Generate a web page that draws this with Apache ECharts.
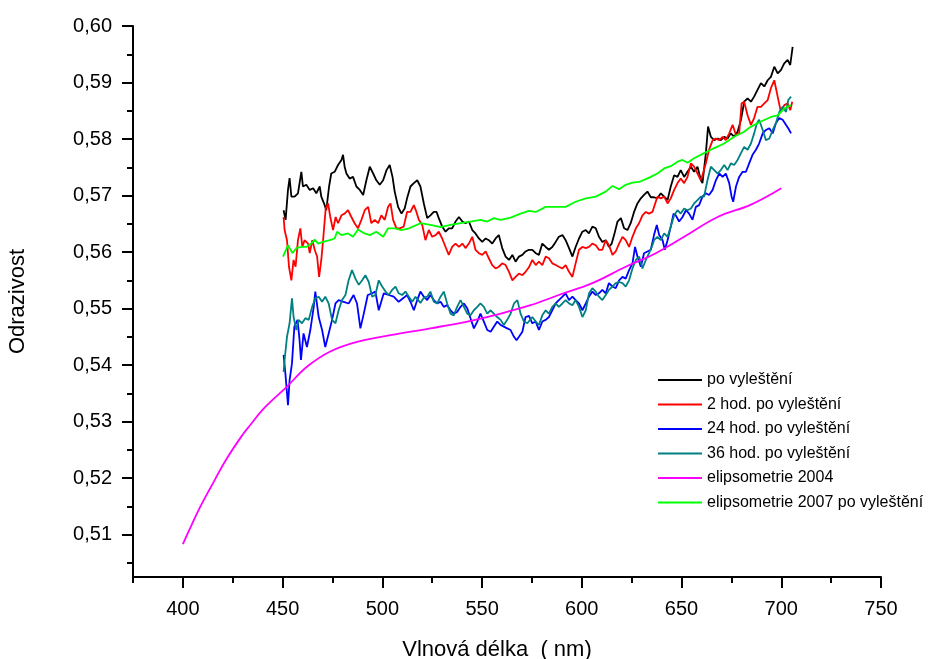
<!DOCTYPE html>
<html>
<head>
<meta charset="utf-8">
<script src="https://cdn.jsdelivr.net/npm/echarts@6/dist/echarts.min.js"></script>
<style>html,body{margin:0;padding:0;background:#fff}#c{width:930px;height:659px}</style>
</head>
<body>
<div id="c"></div>
<script>
const seriesNames = ["po vyleštění","2 hod. po vyleštění","24 hod. po vyleštění","36 hod. po vyleštění","elipsometrie 2004","elipsometrie 2007 po vyleštění"];
const xTicksMajor = [400,450,500,550,600,650,700,750];
const xTicksMinor = [375,425,475,525,575,625,675,725];
const yTicksMajor = [0.51,0.52,0.53,0.54,0.55,0.56,0.57,0.58,0.59,0.60];
const yTicksMinor = [0.505,0.515,0.525,0.535,0.545,0.555,0.565,0.575,0.585,0.595];

const poVylesteni = [[450.5,0.5674],[451.5,0.5657],[452.7,0.5710],[453.5,0.5731],[454.4,0.5698],[456.0,0.5698],[457.7,0.5704],[459.4,0.5742],[460.2,0.5716],[461.9,0.5719],[463.6,0.5710],[465.3,0.5713],[466.9,0.5704],[468.6,0.5716],[469.4,0.5698],[471.1,0.5683],[471.9,0.5674],[473.3,0.5716],[474.4,0.5739],[476.1,0.5742],[477.8,0.5754],[479.5,0.5763],[480.3,0.5772],[481.1,0.5751],[482.0,0.5739],[483.6,0.5730],[485.3,0.5733],[487.0,0.5716],[488.7,0.5710],[490.4,0.5701],[492.0,0.5727],[493.7,0.5751],[495.4,0.5739],[497.0,0.5727],[498.7,0.5719],[500.4,0.5727],[502.1,0.5745],[503.7,0.5754],[505.1,0.5733],[506.2,0.5707],[507.9,0.5680],[509.6,0.5668],[511.2,0.5677],[512.4,0.5695],[514.1,0.5716],[515.8,0.5722],[517.5,0.5727],[519.1,0.5716],[520.8,0.5686],[522.5,0.5660],[524.1,0.5665],[525.8,0.5671],[527.2,0.5671],[528.3,0.5660],[530.0,0.5645],[531.7,0.5636],[533.3,0.5642],[535.0,0.5642],[536.7,0.5654],[538.4,0.5662],[540.1,0.5654],[541.7,0.5651],[543.4,0.5654],[545.1,0.5639],[546.7,0.5633],[548.4,0.5624],[550.1,0.5618],[551.8,0.5624],[553.4,0.5621],[555.1,0.5615],[556.8,0.5624],[558.4,0.5630],[560.1,0.5607],[561.8,0.5592],[563.5,0.5586],[565.2,0.5595],[566.8,0.5583],[568.5,0.5592],[570.2,0.5595],[571.8,0.5601],[573.5,0.5604],[575.2,0.5604],[576.9,0.5598],[578.5,0.5595],[580.2,0.5615],[581.9,0.5609],[583.5,0.5604],[585.2,0.5609],[586.9,0.5618],[588.5,0.5627],[590.3,0.5630],[591.9,0.5621],[593.6,0.5607],[595.3,0.5592],[596.9,0.5609],[598.6,0.5624],[600.3,0.5636],[602.0,0.5639],[603.6,0.5633],[605.3,0.5645],[607.0,0.5642],[608.6,0.5627],[610.3,0.5618],[612.0,0.5621],[613.6,0.5609],[615.0,0.5615],[616.2,0.5630],[617.9,0.5654],[619.6,0.5660],[621.2,0.5642],[622.9,0.5639],[624.5,0.5651],[626.2,0.5671],[627.9,0.5686],[629.6,0.5695],[631.2,0.5701],[632.9,0.5707],[634.6,0.5697],[636.2,0.5697],[637.9,0.5695],[639.6,0.5704],[641.3,0.5698],[643.0,0.5692],[644.6,0.5716],[646.3,0.5736],[648.0,0.5733],[649.6,0.5745],[651.3,0.5733],[653.0,0.5742],[654.7,0.5751],[656.3,0.5742],[658.0,0.5751],[659.7,0.5727],[660.5,0.5722],[662.2,0.5775],[663.3,0.5822],[664.7,0.5804],[666.4,0.5798],[668.1,0.5801],[669.7,0.5798],[671.4,0.5804],[673.1,0.5801],[674.7,0.5810],[676.4,0.5804],[678.1,0.5813],[679.8,0.5834],[681.4,0.5866],[683.1,0.5872],[684.8,0.5866],[686.4,0.5875],[688.1,0.5887],[689.8,0.5899],[691.5,0.5893],[693.2,0.5904],[694.8,0.5910],[696.5,0.5928],[698.2,0.5916],[699.8,0.5922],[701.5,0.5934],[703.2,0.5940],[704.5,0.5931],[705.7,0.5963]];

const hod2 = [[450.5,0.5662],[451.0,0.5639],[452.2,0.5621],[453.2,0.5574],[454.4,0.5550],[455.5,0.5586],[456.5,0.5574],[457.7,0.5621],[458.9,0.5642],[459.9,0.5609],[461.0,0.5621],[462.8,0.5615],[463.6,0.5598],[464.9,0.5621],[466.1,0.5604],[467.3,0.5592],[468.3,0.5556],[469.4,0.5586],[470.3,0.5621],[471.6,0.5677],[472.8,0.5686],[473.9,0.5662],[475.3,0.5639],[476.6,0.5662],[477.8,0.5651],[479.5,0.5665],[481.1,0.5668],[482.8,0.5674],[484.5,0.5662],[486.1,0.5651],[487.8,0.5642],[489.5,0.5657],[491.2,0.5674],[492.9,0.5680],[494.5,0.5651],[496.2,0.5657],[497.9,0.5651],[499.5,0.5665],[501.2,0.5657],[502.9,0.5680],[504.1,0.5686],[505.4,0.5657],[507.1,0.5642],[508.7,0.5642],[510.7,0.5645],[512.4,0.5671],[514.1,0.5671],[515.8,0.5683],[517.1,0.5671],[518.3,0.5657],[520.0,0.5648],[521.6,0.5621],[523.3,0.5639],[525.0,0.5627],[526.7,0.5630],[528.3,0.5636],[530.0,0.5624],[531.7,0.5609],[533.3,0.5595],[535.0,0.5609],[536.7,0.5615],[538.4,0.5609],[540.1,0.5615],[541.7,0.5607],[543.4,0.5615],[545.1,0.5627],[546.7,0.5604],[548.4,0.5598],[550.1,0.5595],[551.8,0.5601],[553.4,0.5589],[555.1,0.5577],[556.8,0.5571],[558.4,0.5574],[560.1,0.5580],[561.8,0.5577],[563.5,0.5565],[565.2,0.5550],[566.8,0.5556],[568.5,0.5562],[570.2,0.5559],[571.8,0.5565],[573.5,0.5573],[575.2,0.5586],[576.9,0.5577],[578.5,0.5583],[580.2,0.5577],[581.9,0.5592],[583.5,0.5589],[585.2,0.5580],[586.9,0.5577],[588.5,0.5574],[590.3,0.5571],[591.9,0.5577],[593.6,0.5565],[595.3,0.5556],[596.9,0.5580],[598.6,0.5604],[600.3,0.5609],[602.0,0.5607],[603.6,0.5609],[605.3,0.5615],[607.0,0.5612],[608.6,0.5604],[610.3,0.5604],[612.0,0.5621],[613.6,0.5612],[615.4,0.5595],[617.0,0.5601],[618.7,0.5615],[620.4,0.5627],[622.0,0.5621],[623.7,0.5609],[625.4,0.5627],[627.1,0.5642],[628.7,0.5651],[630.4,0.5665],[632.1,0.5671],[633.7,0.5668],[635.4,0.5671],[636.2,0.5674],[637.9,0.5698],[639.6,0.5695],[641.3,0.5698],[643.0,0.5686],[644.6,0.5695],[646.3,0.5710],[648.0,0.5722],[649.6,0.5730],[651.3,0.5722],[653.0,0.5733],[654.7,0.5757],[656.3,0.5751],[658.0,0.5739],[659.7,0.5727],[661.0,0.5742],[662.2,0.5757],[663.8,0.5781],[665.6,0.5798],[667.2,0.5801],[668.9,0.5798],[670.6,0.5804],[672.2,0.5798],[673.9,0.5810],[675.6,0.5825],[677.3,0.5807],[678.9,0.5810],[680.1,0.5863],[681.4,0.5866],[683.1,0.5842],[684.8,0.5825],[686.4,0.5837],[688.1,0.5857],[689.8,0.5857],[691.5,0.5863],[693.2,0.5869],[694.8,0.5890],[696.5,0.5904],[698.2,0.5875],[699.8,0.5848],[701.5,0.5860],[703.2,0.5863],[704.5,0.5851],[705.5,0.5866]];

const hod24 = [[450.5,0.5418],[451.4,0.5385],[452.7,0.5329],[453.5,0.5373],[454.7,0.5403],[455.9,0.5468],[457.5,0.5480],[458.5,0.5444],[459.2,0.5409],[460.5,0.5456],[462.2,0.5432],[463.9,0.5462],[465.6,0.5503],[466.4,0.5530],[468.1,0.5485],[469.8,0.5462],[471.4,0.5432],[473.1,0.5456],[474.8,0.5480],[476.5,0.5509],[478.1,0.5515],[480.6,0.5512],[483.1,0.5509],[485.6,0.5524],[487.3,0.5509],[489.0,0.5465],[490.7,0.5491],[492.7,0.5524],[494.9,0.5527],[496.5,0.5530],[498.2,0.5497],[500.7,0.5527],[503.2,0.5524],[505.7,0.5521],[508.2,0.5512],[510.7,0.5519],[512.4,0.5524],[514.1,0.5512],[515.8,0.5497],[517.5,0.5515],[519.1,0.5530],[520.8,0.5521],[522.5,0.5515],[524.1,0.5524],[525.8,0.5515],[527.5,0.5509],[529.2,0.5512],[530.8,0.5503],[532.5,0.5506],[534.2,0.5497],[535.8,0.5491],[537.5,0.5494],[539.2,0.5503],[540.9,0.5509],[542.6,0.5500],[544.2,0.5483],[545.9,0.5465],[547.6,0.5477],[549.2,0.5491],[550.9,0.5477],[552.6,0.5462],[554.3,0.5459],[555.9,0.5468],[557.6,0.5477],[559.3,0.5471],[560.9,0.5468],[562.6,0.5465],[564.3,0.5462],[566.0,0.5450],[567.3,0.5444],[568.5,0.5450],[570.2,0.5459],[571.8,0.5485],[573.5,0.5487],[575.2,0.5474],[576.9,0.5477],[578.5,0.5462],[580.2,0.5477],[581.9,0.5480],[583.5,0.5485],[585.2,0.5497],[586.9,0.5509],[588.5,0.5515],[590.3,0.5521],[591.9,0.5527],[593.6,0.5515],[595.3,0.5521],[596.9,0.5515],[598.6,0.5509],[600.3,0.5497],[602.0,0.5509],[603.6,0.5521],[605.3,0.5530],[607.0,0.5524],[608.6,0.5527],[610.3,0.5533],[612.0,0.5527],[613.6,0.5545],[615.4,0.5539],[617.0,0.5536],[618.7,0.5550],[620.4,0.5556],[622.0,0.5553],[623.7,0.5568],[625.4,0.5580],[626.7,0.5609],[627.9,0.5592],[629.6,0.5574],[631.2,0.5598],[632.9,0.5601],[634.6,0.5604],[636.2,0.5630],[637.6,0.5648],[638.8,0.5630],[640.5,0.5621],[641.6,0.5604],[643.0,0.5621],[644.6,0.5645],[646.0,0.5668],[647.1,0.5665],[648.8,0.5654],[650.5,0.5662],[652.2,0.5674],[653.8,0.5668],[655.5,0.5657],[657.2,0.5680],[658.8,0.5683],[660.5,0.5698],[662.2,0.5704],[663.8,0.5701],[665.6,0.5710],[667.2,0.5727],[668.9,0.5739],[670.6,0.5733],[672.2,0.5739],[673.9,0.5722],[675.1,0.5698],[675.9,0.5689],[677.3,0.5716],[678.9,0.5733],[680.6,0.5742],[682.3,0.5742],[683.9,0.5757],[685.6,0.5772],[687.3,0.5781],[688.9,0.5792],[690.7,0.5810],[692.3,0.5816],[694.0,0.5819],[695.7,0.5810],[697.3,0.5828],[699.0,0.5837],[700.7,0.5834],[702.4,0.5825],[703.5,0.5819],[704.9,0.5810]];

const hod36 = [[450.5,0.5388],[451.0,0.5409],[452.2,0.5450],[453.5,0.5474],[454.7,0.5518],[455.5,0.5485],[456.9,0.5462],[458.0,0.5480],[459.7,0.5474],[461.4,0.5483],[463.1,0.5480],[464.8,0.5503],[466.4,0.5518],[468.1,0.5521],[469.8,0.5512],[471.4,0.5521],[473.1,0.5509],[474.8,0.5480],[476.5,0.5474],[478.1,0.5497],[479.8,0.5515],[481.5,0.5524],[483.1,0.5550],[484.8,0.5568],[486.5,0.5553],[488.2,0.5542],[489.9,0.5550],[491.5,0.5559],[493.2,0.5547],[494.9,0.5521],[496.5,0.5524],[498.2,0.5550],[499.9,0.5539],[501.6,0.5530],[503.2,0.5524],[504.9,0.5533],[506.6,0.5539],[508.2,0.5527],[509.9,0.5524],[511.6,0.5530],[513.3,0.5521],[515.0,0.5512],[516.6,0.5521],[519.1,0.5510],[520.8,0.5519],[522.5,0.5521],[524.1,0.5530],[525.8,0.5512],[527.5,0.5509],[529.2,0.5521],[530.8,0.5530],[532.5,0.5509],[534.2,0.5491],[535.8,0.5488],[537.5,0.5503],[539.2,0.5515],[540.9,0.5503],[542.6,0.5491],[544.2,0.5488],[545.9,0.5497],[547.6,0.5503],[549.2,0.5509],[550.9,0.5503],[552.6,0.5491],[554.3,0.5497],[555.9,0.5491],[557.6,0.5485],[559.3,0.5480],[560.9,0.5471],[562.6,0.5480],[564.3,0.5491],[566.0,0.5509],[567.7,0.5515],[569.3,0.5491],[571.0,0.5477],[572.7,0.5474],[575.2,0.5485],[576.9,0.5477],[578.5,0.5471],[580.2,0.5488],[581.9,0.5497],[583.5,0.5491],[585.2,0.5503],[586.9,0.5509],[588.5,0.5503],[590.3,0.5509],[591.9,0.5515],[593.6,0.5509],[595.3,0.5506],[596.9,0.5515],[598.6,0.5503],[600.3,0.5485],[602.0,0.5497],[603.6,0.5527],[605.3,0.5536],[607.0,0.5530],[608.6,0.5521],[610.3,0.5515],[612.0,0.5524],[613.6,0.5533],[615.4,0.5539],[617.0,0.5545],[618.7,0.5547],[620.4,0.5545],[622.0,0.5539],[623.7,0.5550],[625.4,0.5571],[627.1,0.5586],[628.7,0.5592],[630.4,0.5571],[632.1,0.5586],[633.7,0.5598],[635.4,0.5612],[636.2,0.5621],[637.9,0.5627],[639.6,0.5621],[641.3,0.5633],[643.0,0.5627],[644.6,0.5645],[646.3,0.5665],[648.0,0.5674],[649.6,0.5668],[651.3,0.5677],[653.0,0.5674],[654.7,0.5677],[656.3,0.5686],[658.0,0.5692],[659.7,0.5698],[661.3,0.5698],[663.0,0.5727],[664.7,0.5751],[666.4,0.5745],[668.1,0.5739],[669.7,0.5745],[671.4,0.5754],[673.1,0.5745],[674.7,0.5757],[676.4,0.5754],[678.1,0.5763],[679.8,0.5775],[681.4,0.5786],[683.1,0.5781],[684.8,0.5792],[686.4,0.5810],[687.8,0.5828],[688.9,0.5834],[690.7,0.5816],[692.3,0.5798],[694.0,0.5801],[695.7,0.5816],[697.3,0.5828],[699.0,0.5848],[700.7,0.5857],[702.4,0.5848],[703.5,0.5869],[704.9,0.5875]];

const elips2004 = [[400.0,0.5083],[403.7,0.5112],[408.7,0.5149],[413.7,0.5182],[422.1,0.5235],[430.4,0.5279],[433.8,0.5294],[440.5,0.5323],[452.2,0.5362],[462.2,0.5397],[473.9,0.5424],[487.3,0.5441],[504.1,0.5453],[524.1,0.5465],[542.6,0.5477],[555.9,0.5488],[574.3,0.5506],[588.5,0.5524],[605.3,0.5545],[622.0,0.5574],[637.1,0.5598],[651.3,0.5627],[668.1,0.5662],[684.8,0.5684],[700.0,0.5713]];

const elips2007 = [[450.2,0.5592],[452.7,0.5612],[454.9,0.5598],[456.9,0.5607],[459.4,0.5609],[461.9,0.5609],[464.4,0.5615],[466.1,0.5622],[467.8,0.5615],[470.3,0.5618],[473.6,0.5621],[476.1,0.5624],[477.3,0.5636],[479.5,0.5630],[482.8,0.5633],[485.3,0.5627],[487.8,0.5640],[490.4,0.5634],[493.7,0.5630],[497.0,0.5636],[500.4,0.5627],[502.9,0.5642],[506.2,0.5642],[509.6,0.5639],[513.3,0.5642],[519.1,0.5651],[524.1,0.5648],[529.2,0.5644],[534.2,0.5648],[539.2,0.5651],[544.2,0.5654],[549.2,0.5657],[552.6,0.5654],[555.9,0.5660],[559.3,0.5657],[564.3,0.5661],[569.3,0.5668],[573.5,0.5673],[576.9,0.5671],[581.9,0.5680],[586.9,0.5680],[591.9,0.5680],[596.9,0.5689],[602.0,0.5695],[607.0,0.5698],[612.0,0.5707],[615.4,0.5717],[618.7,0.5711],[622.0,0.5719],[625.4,0.5723],[628.7,0.5724],[632.1,0.5729],[634.6,0.5733],[637.9,0.5739],[641.3,0.5748],[644.6,0.5752],[648.0,0.5760],[650.5,0.5763],[653.0,0.5758],[656.3,0.5766],[661.3,0.5775],[666.4,0.5784],[671.4,0.5792],[676.4,0.5804],[681.4,0.5813],[684.8,0.5822],[689.8,0.5831],[694.8,0.5839],[698.2,0.5842],[701.5,0.5854],[704.9,0.5860]];

const seriesData = [poVylesteni, hod2, hod24, hod36, elips2004, elips2007];
const seriesColors = ['#000000','#ff0000','#0000ff','#008080','#ff00ff','#00ff00'];

const FONT = '"Liberation Sans", Arial, Helvetica, sans-serif';
const chart = echarts.init(document.getElementById('c'), null, {renderer: 'canvas'});

const axisLineStyle = {color: '#000', width: 2};
const baseX = {
  type: 'value', min: 375, max: 750, position: 'bottom', gridIndex: 0,
  splitLine: {show: false}
};
const baseY = {
  type: 'value', min: 0.5025, max: 0.60, position: 'left', gridIndex: 0,
  splitLine: {show: false}
};

const option = {
  backgroundColor: '#ffffff',
  animation: false,
  grid: {left: 133, right: 49, top: 26, bottom: 82, containLabel: false, outerBoundsMode: 'none'},
  xAxis: [
    Object.assign({}, baseX, {
      name: 'Vlnová délka  ( nm)', nameLocation: 'middle', nameGap: 62,
      nameTextStyle: {fontFamily: FONT, fontSize: 22, color: '#000', padding: [0, 20, 0, 0]},
      axisLine: {show: true, onZero: false, lineStyle: axisLineStyle},
      axisTick: {show: true, inside: false, length: 11, lineStyle: {color: '#000', width: 2}, customValues: xTicksMajor},
      axisLabel: {show: true, margin: 22, fontFamily: FONT, fontSize: 20, color: '#000', customValues: xTicksMajor}
    }),
    Object.assign({}, baseX, {
      axisLine: {show: false, onZero: false},
      axisTick: {show: true, inside: false, length: 6, lineStyle: {color: '#000', width: 2}, customValues: xTicksMinor},
      axisLabel: {show: false}
    })
  ],
  yAxis: [
    Object.assign({}, baseY, {
      name: 'Odrazivost', nameLocation: 'middle', nameGap: 104, nameRotate: 90,
      nameTextStyle: {fontFamily: FONT, fontSize: 22, color: '#000'},
      axisLine: {show: true, onZero: false, lineStyle: axisLineStyle},
      axisTick: {show: true, inside: false, length: 11, lineStyle: {color: '#000', width: 2}, customValues: yTicksMajor},
      axisLabel: {show: true, margin: 21, fontFamily: FONT, fontSize: 20, color: '#000', customValues: yTicksMajor,
        formatter: v => v.toFixed(2).replace('.', ',')}
    }),
    Object.assign({}, baseY, {
      axisLine: {show: false, onZero: false},
      axisTick: {show: true, inside: false, length: 6, lineStyle: {color: '#000', width: 2}, customValues: yTicksMinor},
      axisLabel: {show: false}
    })
  ],
  legend: {
    orient: 'vertical', left: 658, top: 372, padding: 0,
    icon: 'rect', itemWidth: 44, itemHeight: 2, itemGap: 8.5,
    textStyle: {fontFamily: FONT, fontSize: 16, color: '#000', lineHeight: 14},
    data: seriesNames
  },
  series: seriesNames.map((name, i) => ({
    name: name, type: 'line', xAxisIndex: 0, yAxisIndex: 0,
    data: seriesData[i], symbol: 'none', showSymbol: false,
    smooth: i === 4 ? 0.4 : false,
    color: seriesColors[i],
    lineStyle: {color: seriesColors[i], width: 1.8},
    emphasis: {disabled: true}
  }))
};
chart.setOption(option);
</script>
</body>
</html>
